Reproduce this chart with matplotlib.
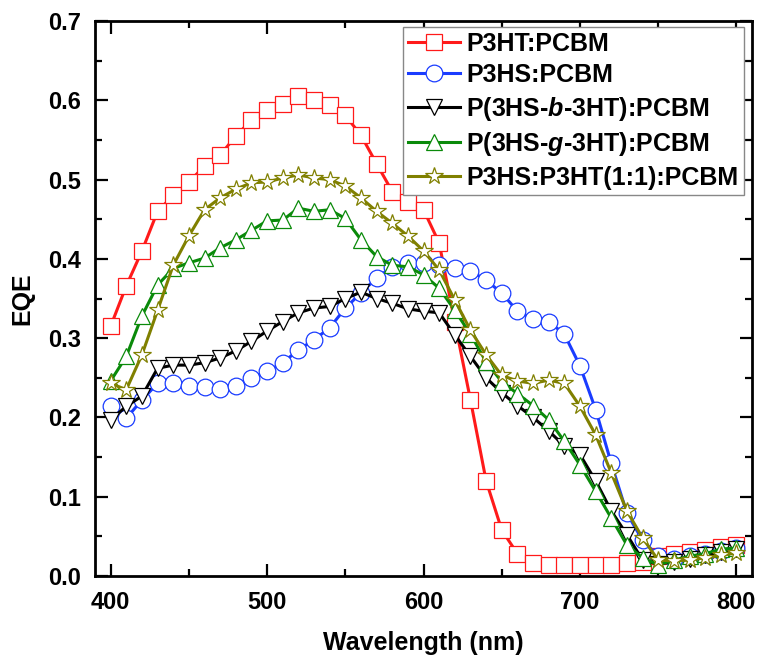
import matplotlib
matplotlib.use("Agg")
import matplotlib.pyplot as plt
from matplotlib.ticker import MultipleLocator

plt.rcParams['font.family'] = ['Liberation Sans', 'DejaVu Sans']
plt.rcParams['font.weight'] = 'bold'
plt.rcParams['mathtext.fontset'] = 'custom'
plt.rcParams['mathtext.it'] = 'Liberation Sans:italic:bold'
plt.rcParams['mathtext.rm'] = 'Liberation Sans:bold'

# === Data ===
wavelength = list(range(400, 801, 10))

p3ht = [0.315, 0.366, 0.41, 0.46, 0.48, 0.497, 0.517, 0.531, 0.555, 0.575,
        0.588, 0.596, 0.605, 0.60, 0.594, 0.581, 0.556, 0.52, 0.485, 0.472,
        0.462, 0.42, 0.32, 0.222, 0.12, 0.058, 0.028, 0.016, 0.014, 0.014,
        0.014, 0.014, 0.014, 0.016, 0.018, 0.025, 0.028, 0.03, 0.033, 0.036, 0.039]

p3hs = [0.214, 0.199, 0.222, 0.243, 0.243, 0.24, 0.238, 0.236, 0.24, 0.25,
        0.258, 0.269, 0.285, 0.298, 0.313, 0.338, 0.357, 0.376, 0.39, 0.395,
        0.395, 0.392, 0.388, 0.385, 0.373, 0.357, 0.334, 0.324, 0.321, 0.305,
        0.265, 0.21, 0.142, 0.079, 0.045, 0.025, 0.022, 0.025, 0.028, 0.031, 0.035]

block = [0.197, 0.214, 0.227, 0.262, 0.266, 0.266, 0.269, 0.275, 0.284, 0.296,
         0.309, 0.321, 0.332, 0.338, 0.34, 0.35, 0.358, 0.35, 0.344, 0.337,
         0.334, 0.332, 0.304, 0.277, 0.25, 0.231, 0.215, 0.2, 0.183, 0.164,
         0.153, 0.12, 0.082, 0.052, 0.02, 0.015, 0.018, 0.022, 0.026, 0.03, 0.034]

graft = [0.246, 0.277, 0.328, 0.367, 0.388, 0.395, 0.401, 0.414, 0.424, 0.436,
         0.448, 0.449, 0.464, 0.46, 0.462, 0.451, 0.424, 0.403, 0.392, 0.39,
         0.38, 0.363, 0.335, 0.305, 0.27, 0.245, 0.23, 0.215, 0.197, 0.17,
         0.14, 0.107, 0.073, 0.039, 0.023, 0.014, 0.02, 0.025, 0.028, 0.034, 0.035]

blend = [0.243, 0.235, 0.279, 0.335, 0.392, 0.429, 0.462, 0.477, 0.488, 0.496,
         0.497, 0.502, 0.506, 0.502, 0.5, 0.492, 0.477, 0.46, 0.445, 0.429,
         0.41, 0.386, 0.348, 0.31, 0.279, 0.253, 0.246, 0.243, 0.247, 0.243,
         0.214, 0.178, 0.13, 0.082, 0.048, 0.02, 0.019, 0.02, 0.023, 0.026, 0.029]

labels = ['P3HT:PCBM', 'P3HS:PCBM', r'P(3HS-$\mathit{b}$-3HT):PCBM',
          r'P(3HS-$\mathit{g}$-3HT):PCBM', 'P3HS:P3HT(1:1):PCBM']
series = [p3ht, p3hs, block, graft, blend]
colors = ['#ff1a1a', '#1a3cff', '#000000', '#0a8a0a', '#808000']
markers = ['s', 'o', 'v', '^', '*']
msizes = [11, 12, 12, 12, 13]

fig = plt.figure(figsize=(7.57, 6.59), dpi=100)
ax = fig.add_axes([0.1255, 0.126, 0.868, 0.842])

for y, lab, c, m, ms in zip(series, labels, colors, markers, msizes):
    ax.plot(wavelength, y, color=c, lw=2.2, marker=m, ms=ms,
            mfc='white', mec=c, mew=0.9, label=lab)

ax.set_xlim(390, 810)
ax.set_ylim(0, 0.7)
ax.xaxis.set_major_locator(MultipleLocator(100))
ax.xaxis.set_minor_locator(MultipleLocator(50))
ax.yaxis.set_major_locator(MultipleLocator(0.1))
ax.yaxis.set_minor_locator(MultipleLocator(0.05))
ax.yaxis.set_major_formatter(plt.FormatStrFormatter('%.1f'))
ax.tick_params(which='both', direction='in', top=True, right=True, width=1.6)
ax.tick_params(which='major', length=9, labelsize=17)
ax.tick_params(which='minor', length=5)
ax.tick_params(axis='x', which='major', pad=11)
ax.tick_params(axis='y', which='major', pad=10)
for s in ax.spines.values():
    s.set_linewidth(2)

ax.set_xlabel('Wavelength (nm)', fontsize=18, fontweight='bold', labelpad=12)
ax.set_ylabel('EQE', fontsize=18, fontweight='bold', labelpad=10)

leg = ax.legend(loc='upper right', bbox_to_anchor=(0.987, 0.99),
                handlelength=2.1, labelspacing=0.3, borderpad=0.2,
                handletextpad=0.25, borderaxespad=0, fancybox=False, framealpha=1,
                prop={'weight': 'bold', 'size': 18})
leg.get_frame().set_edgecolor('#888888')
leg.get_frame().set_linewidth(1)

fig.savefig('out.png', dpi=100)
